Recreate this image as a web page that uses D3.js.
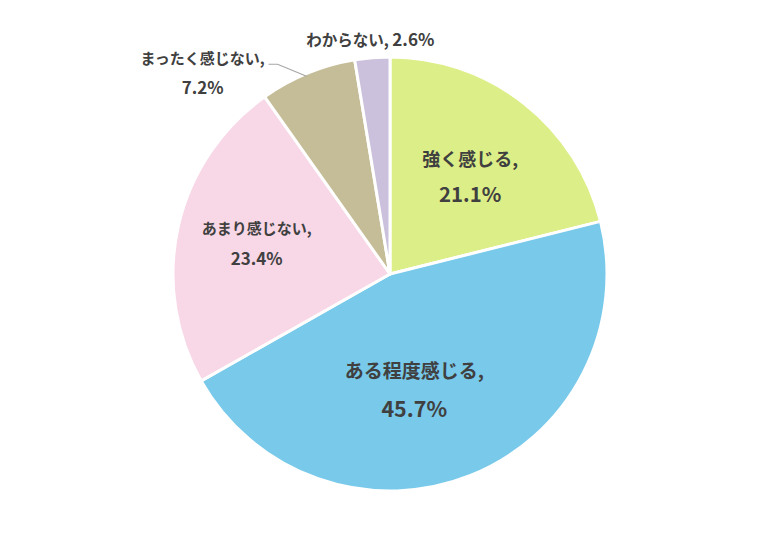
<!DOCTYPE html>
<html>
<head>
<meta charset="utf-8">
<script src="https://cdn.jsdelivr.net/npm/d3@7"></script>
<style>
  body { margin: 0; background: #fff; }
  text { font-family: "Noto Sans CJK JP", "Noto Sans", sans-serif; font-weight: bold; fill: #404040; }
</style>
</head>
<body>
<div id="chart"></div>
<script>
const width = 780;
const height = 552;

// data
const categories = ["強く感じる", "ある程度感じる", "あまり感じない", "まったく感じない", "わからない"];
const values = [21.1, 45.7, 23.4, 7.2, 2.6];
const colors = ["#dcee87", "#78c9ea", "#f8d7e6", "#c5bd98", "#cbc1dc"];

// label layout: radius factor, px offsets, font size, one or two lines
const labelLayout = [
  { k: 0.6, dx: 0, dy: 6, size: 18, split: true },
  { k: 0.55, dx: -20, dy: 6, size: 19, split: true },
  { k: 0.63, dx: 0, dy: 0, size: 15, split: true },
  { k: 1.0, dx: -105, dy: 0, size: 15, split: true },
  { k: 1.0, dx: -2, dy: -17, size: 15.5, split: false }
];

const cx = 390, cy = 274, r = 217;

const svg = d3.select("#chart")
    .append("svg")
    .attr("width", width)
    .attr("height", height);

const g = svg.append("g").attr("transform", `translate(${cx},${cy})`);

const pie = d3.pie().sort(null).value(d => d.value);
const arc = d3.arc().innerRadius(0).outerRadius(r);

const data = categories.map((c, i) => ({ name: c, value: values[i], color: colors[i], layout: labelLayout[i] }));
const arcs = pie(data);

g.selectAll("path")
    .data(arcs)
    .enter()
    .append("path")
    .attr("d", arc)
    .attr("fill", d => d.data.color)
    .attr("stroke", "#fff")
    .attr("stroke-width", 3)
    .attr("stroke-linejoin", "round");

// label positions from the arc centroid
function labelPos(d) {
    const L = d.data.layout;
    const a = (d.startAngle + d.endAngle) / 2;
    const rr = r * L.k;
    return [Math.sin(a) * rr + L.dx, -Math.cos(a) * rr + L.dy];
}

const labels = g.selectAll("g.label")
    .data(arcs)
    .enter()
    .append("g")
    .attr("class", "label")
    .attr("transform", d => `translate(${labelPos(d)})`);

const pct = v => d3.format(".1f")(v) + "%";

labels.each(function(d) {
    const L = d.data.layout;
    const t = d3.select(this).append("text")
        .attr("text-anchor", "middle")
        .style("font-size", L.size + "px");
    if (L.split) {
        const gap = L.size * 2.0;
        t.append("tspan").attr("x", 0).attr("y", -gap / 2).attr("dy", "0.35em").text(d.data.name + ",");
        t.append("tspan").attr("x", 0).attr("y", gap / 2).attr("dy", "0.35em")
            .style("font-size", (L.size * 1.13) + "px")
            .text(pct(d.data.value));
    } else {
        t.attr("dy", "0.35em").text(d.data.name + ", ");
        t.append("tspan").style("font-size", (L.size * 1.1) + "px").text(pct(d.data.value));
    }
});

// leader line for the small slice on the upper left
const small = arcs[3];
const edge = d3.arc().innerRadius(r).outerRadius(r).centroid(small);
const lp = labelPos(small);
const lineStart = [lp[0] + 66, lp[1] - 9];
g.append("polyline")
    .attr("points", [lineStart, [lineStart[0] + 9, lineStart[1]], [edge[0] - 1, edge[1] + 3]].map(p => p.join(",")).join(" "))
    .attr("fill", "none")
    .attr("stroke", "#a6a6a6")
    .attr("stroke-width", 1.2);
</script>
</body>
</html>
